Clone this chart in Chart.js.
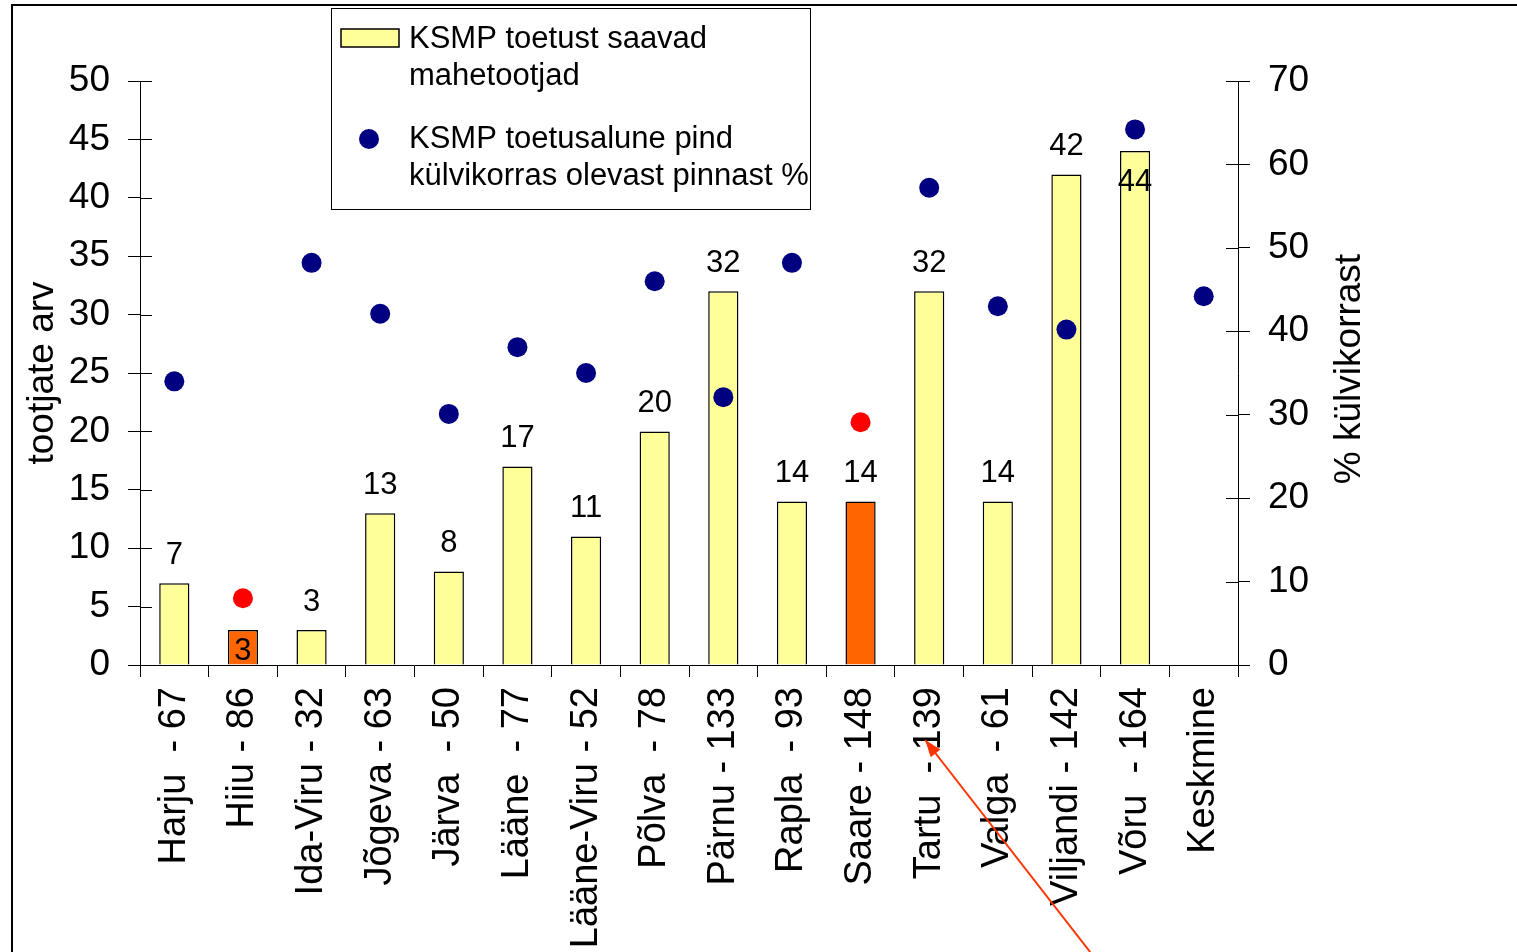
<!DOCTYPE html>
<html>
<head>
<meta charset="utf-8">
<script src="https://cdn.jsdelivr.net/npm/chart.js@4"></script>
<style>
  body { margin: 0; background: #fff; overflow: hidden; }
  canvas { display: block; }
</style>
</head>
<body>
<canvas id="chart" width="1517" height="952"></canvas>
<script>
// maakonnad - tootjate arv
const counties = ['Harju  - 67', 'Hiiu - 86', 'Ida-Viru - 32', 'Jõgeva - 63', 'Järva  - 50',
  'Lääne  - 77', 'Lääne-Viru - 52', 'Põlva  - 78', 'Pärnu - 133', 'Rapla  - 93',
  'Saare - 148', 'Tartu  - 139', 'Valga  - 61', 'Viljandi - 142', 'Võru  - 164', 'Keskmine'];
const producers = [7, 3, 3, 13, 8, 17, 11, 20, 32, 14, 14, 32, 14, 42, 44, null];
const areaShare = [34, 8, 48.2, 42.1, 30.1, 38.1, 35, 46, 32.1, 48.2, 29.1, 57.2, 43, 40.2, 64.2, 44.2];
const highlighted = ['Hiiu - 86', 'Saare - 148'];
const leftTicks = [0, 50, 5];
const rightTicks = [0, 70, 10];
const barLegend = ['KSMP toetust saavad', 'mahetootjad'];
const dotLegend = ['KSMP toetusalune pind', 'külvikorras olevast pinnast %'];

const FONT = '"Liberation Sans", Arial, sans-serif';
const barColors = counties.map(c => highlighted.includes(c) ? '#FF6600' : '#FFFF99');
const dotColors = counties.map(c => highlighted.includes(c) ? '#FF0000' : '#000080');

const frameAndExtras = {
  id: 'frameAndExtras',
  beforeDraw(chart) {
    const ctx = chart.ctx;
    ctx.save();
    ctx.fillStyle = '#fff';
    ctx.fillRect(0, 0, chart.width, chart.height);
    ctx.strokeStyle = '#000';
    ctx.lineWidth = 2;
    ctx.strokeRect(12, 5, 1600, 1000);
    ctx.restore();
  },
  afterDraw(chart) {
    const ctx = chart.ctx;
    const { y, y1, x } = chart.scales;
    ctx.save();
    // inner half of the cross ticks
    ctx.strokeStyle = '#000';
    ctx.lineWidth = 1;
    y.ticks.forEach(t => {
      const py = Math.round(y.getPixelForValue(t.value)) + 0.5;
      ctx.beginPath(); ctx.moveTo(y.right, py); ctx.lineTo(y.right + 12, py); ctx.stroke();
    });
    y1.ticks.forEach(t => {
      const py = Math.round(y1.getPixelForValue(t.value)) + 0.5;
      ctx.beginPath(); ctx.moveTo(y1.left - 12, py); ctx.lineTo(y1.left, py); ctx.stroke();
    });

    // value labels
    const meta = chart.getDatasetMeta(0);
    const tallest = producers.indexOf(Math.max(...producers));
    ctx.font = '31px ' + FONT;
    ctx.fillStyle = '#000';
    ctx.textAlign = 'center';
    ctx.textBaseline = 'middle';
    meta.data.forEach((bar, i) => {
      const v = producers[i];
      if (v === null) return;
      let ty = bar.y - 28;
      if (counties[i] === highlighted[0]) ty = bar.y + 21;
      if (i === tallest) ty = bar.y + 31;
      ctx.fillText(String(v), bar.x, ty);
    });

    // right axis title (reads bottom to top)
    ctx.save();
    ctx.translate(1350, y1.getPixelForValue(35) - 4);
    ctx.rotate(-Math.PI / 2);
    ctx.font = '37px ' + FONT;
    ctx.fillText('% külvikorrast', 0, 0);
    ctx.restore();

    // legend
    ctx.fillStyle = '#fff';
    ctx.fillRect(331, 8, 479, 201);
    ctx.strokeStyle = '#000';
    ctx.lineWidth = 1;
    ctx.strokeRect(331.5, 8.5, 479, 201);
    ctx.fillStyle = '#FFFF99';
    ctx.fillRect(341, 29, 58, 18);
    ctx.lineWidth = 1.5;
    ctx.strokeRect(341, 29, 58, 18);
    ctx.fillStyle = '#000080';
    ctx.beginPath(); ctx.arc(369, 139, 10, 0, Math.PI * 2); ctx.fill();
    ctx.fillStyle = '#000';
    ctx.font = '31px ' + FONT;
    ctx.textAlign = 'left';
    barLegend.forEach((t, i) => ctx.fillText(t, 409, 39 + i * 37));
    dotLegend.forEach((t, i) => ctx.fillText(t, 409, 139 + i * 37));

    // red arrow pointing at Tartu label
    const ax = x.getPixelForValue(11) - 4, ay = 740;
    const bx = ax + 165, by = 952;
    ctx.strokeStyle = '#FF3300';
    ctx.fillStyle = '#FF3300';
    ctx.lineWidth = 2;
    ctx.beginPath(); ctx.moveTo(bx, by); ctx.lineTo(ax, ay); ctx.stroke();
    const ang = Math.atan2(ay - by, ax - bx);
    ctx.beginPath();
    ctx.moveTo(ax, ay);
    ctx.lineTo(ax - 18 * Math.cos(ang - 0.35), ay - 18 * Math.sin(ang - 0.35));
    ctx.lineTo(ax - 18 * Math.cos(ang + 0.35), ay - 18 * Math.sin(ang + 0.35));
    ctx.closePath(); ctx.fill();
    ctx.restore();
  }
};

new Chart(document.getElementById('chart'), {
  type: 'bar',
  data: {
    labels: counties,
    datasets: [{
      type: 'bar',
      label: barLegend.join(' '),
      data: producers,
      backgroundColor: barColors,
      borderColor: '#000',
      borderWidth: 1.5,
      barPercentage: 0.44,
      categoryPercentage: 1,
      yAxisID: 'y',
      order: 2
    }, {
      type: 'line',
      label: dotLegend.join(' '),
      data: areaShare,
      showLine: false,
      pointRadius: 10,
      pointBackgroundColor: dotColors,
      pointBorderColor: dotColors,
      pointBorderWidth: 0,
      yAxisID: 'y1',
      order: 1
    }]
  },
  options: {
    responsive: false,
    animation: false,
    layout: { padding: { top: 81, left: 0, right: 0, bottom: 0 } },
    plugins: { legend: { display: false }, tooltip: { enabled: false } },
    scales: {
      x: {
        offset: true,
        afterFit: s => { s.height = 287; },
        grid: { offset: true, drawOnChartArea: false, tickLength: 12, color: '#000' },
        border: { color: '#000', width: 1 },
        ticks: {
          color: '#000', font: { family: FONT, size: 38 },
          minRotation: 90, maxRotation: 90, autoSkip: false, padding: 10
        }
      },
      y: {
        position: 'left',
        min: leftTicks[0], max: leftTicks[1],
        afterFit: s => { s.width = 140; },
        grid: { drawOnChartArea: false, tickLength: 12, color: '#000' },
        border: { color: '#000', width: 1 },
        ticks: { stepSize: leftTicks[2], color: '#000', font: { family: FONT, size: 37 }, padding: 18 },
        title: {
          display: true, text: 'tootjate arv', color: '#000',
          font: { family: FONT, size: 37 }, padding: { top: 21, bottom: 0 }
        }
      },
      y1: {
        position: 'right',
        min: rightTicks[0], max: rightTicks[1],
        afterFit: s => { s.width = 279; },
        grid: { drawOnChartArea: false, tickLength: 12, color: '#000' },
        border: { color: '#000', width: 1 },
        ticks: { stepSize: rightTicks[2], color: '#000', font: { family: FONT, size: 37 }, padding: 18 }
      }
    }
  },
  plugins: [frameAndExtras]
});
</script>
</body>
</html>
